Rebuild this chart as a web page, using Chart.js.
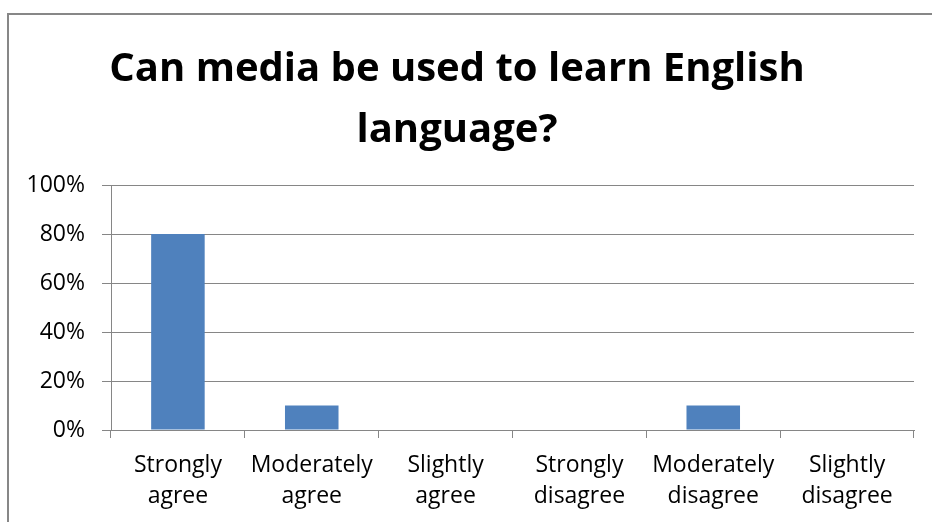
<!DOCTYPE html>
<html>
<head>
<meta charset="utf-8">
<script src="https://cdn.jsdelivr.net/npm/chart.js@4/dist/chart.umd.min.js"></script>
<style>
  html, body { margin: 0; padding: 0; background: #fff; }
  #wrap { position: relative; width: 932px; height: 522px; }
</style>
</head>
<body>
<div id="wrap"><canvas id="c" width="932" height="522"></canvas></div>
<script>
const titleLines = ["Can media be used to learn English", "language?"];
const categories = [
  ["Strongly", "agree"],
  ["Moderately", "agree"],
  ["Slightly", "agree"],
  ["Strongly", "disagree"],
  ["Moderately", "disagree"],
  ["Slightly", "disagree"]
];
const responses = [80, 10, 0, 0, 10, 0];
const yTickStep = 20;
const yMax = 100;

const GRID = '#868686';

const frame = {
  id: 'frame',
  beforeDraw(chart) {
    const ctx = chart.ctx;
    ctx.save();
    ctx.fillStyle = '#fff';
    ctx.fillRect(0, 0, chart.width, chart.height);
    ctx.fillStyle = '#878787';
    ctx.fillRect(7, 13, chart.width - 7, 2);
    ctx.fillRect(7, 13, 2, chart.height - 13);
    ctx.restore();
  }
};

Chart.defaults.font.family = "'Open Sans', sans-serif";
Chart.defaults.color = '#000';

new Chart(document.getElementById('c'), {
  type: 'bar',
  data: {
    labels: categories,
    datasets: [{
      data: responses,
      backgroundColor: '#4f81bd',
      borderWidth: 0,
      barPercentage: 0.4,
      categoryPercentage: 1.0
    }]
  },
  options: {
    responsive: false,
    animation: false,
    layout: { padding: { top: 0, left: 0, right: 18, bottom: 0 } },
    plugins: {
      legend: { display: false },
      tooltip: { enabled: false },
      title: {
        display: true,
        text: titleLines,
        color: '#000',
        font: { size: 40, weight: 'bold', lineHeight: 61 / 40 },
        padding: { top: 39, bottom: 24 }
      }
    },
    scales: {
      x: {
        grid: { display: true, drawOnChartArea: false, offset: true, color: GRID, tickLength: 8, lineWidth: 1 },
        border: { display: true, color: GRID, width: 1 },
        ticks: {
          font: { size: 23, lineHeight: 31 / 23 },
          padding: 12,
          maxRotation: 0,
          autoSkip: false
        },
        afterFit(scale) { scale.height = 92; }
      },
      y: {
        min: 0,
        max: yMax,
        grid: { color: GRID, tickLength: 9, lineWidth: 1 },
        border: { display: true, color: GRID, width: 1 },
        ticks: {
          stepSize: yTickStep,
          font: { size: 23 },
          padding: 17,
          callback: v => v + '%'
        },
        afterFit(scale) { scale.width = 111; }
      }
    }
  },
  plugins: [frame]
});
</script>
</body>
</html>
